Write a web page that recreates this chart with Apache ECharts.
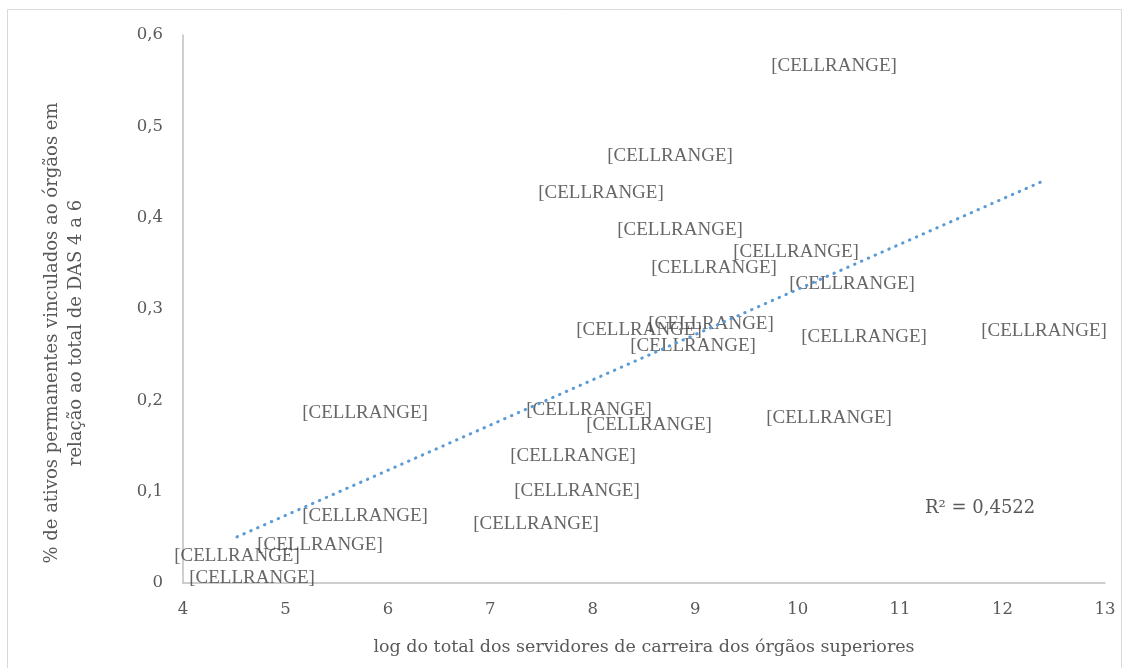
<!DOCTYPE html>
<html>
<head>
<meta charset="utf-8">
<script src="https://cdn.jsdelivr.net/npm/echarts@6/dist/echarts.min.js"></script>
<style>
  html, body { margin: 0; padding: 0; background: #fff; }
  #chart { width: 1131px; height: 668px; }
</style>
</head>
<body>
<div id="chart"></div>
<script>
// log of career staff (x) and share of permanent staff in DAS 4-6 posts (y)
const logServidores = [10.355, 8.754, 8.080, 8.852, 9.984, 9.184, 10.531, 9.154, 8.451, 10.648, 12.405, 8.979,
                       5.777, 7.963, 8.549, 10.306, 7.807, 7.846, 5.777, 7.446, 5.337, 4.527, 4.674];
const pctAtivos = [0.568, 0.470, 0.429, 0.389, 0.365, 0.347, 0.330, 0.286, 0.279, 0.272, 0.278, 0.262,
                   0.188, 0.192, 0.175, 0.183, 0.141, 0.103, 0.0756, 0.0668, 0.0438, 0.0318, 0.0077];
const pointLabel = '[CELLRANGE]';
const r2Text = 'R\u00B2 = 0,4522';
const xTitle = 'log do total dos servidores de carreira dos órgãos superiores';
const yTitle = '% de ativos permanentes vinculados ao órgãos em\nrelação ao total de DAS 4 a 6';

const points = logServidores.map((x, i) => [x, pctAtivos[i]]);

// least-squares linear trend over the data range
const n = points.length;
const mx = logServidores.reduce((a, b) => a + b, 0) / n;
const my = pctAtivos.reduce((a, b) => a + b, 0) / n;
let sxy = 0, sxx = 0;
points.forEach(([x, y]) => { sxy += (x - mx) * (y - my); sxx += (x - mx) * (x - mx); });
const slope = sxy / sxx;
const intercept = my - slope * mx;
const xMin = Math.min(...logServidores);
const xMax = Math.max(...logServidores);
const trend = [[xMin, intercept + slope * xMin], [xMax, intercept + slope * xMax]];

const serif = '"Liberation Serif", "DejaVu Serif", serif';
const wideSerif = '"DejaVu Serif", "Liberation Serif", serif';
const chart = echarts.init(document.getElementById('chart'));
chart.setOption({
  animation: false,
  backgroundColor: '#fff',
  grid: { left: 183, right: 26, top: 35, bottom: 85, containLabel: false },
  xAxis: {
    type: 'value', min: 4, max: 13, interval: 1,
    name: xTitle, nameLocation: 'middle', nameGap: 55,
    nameTextStyle: { fontFamily: wideSerif, fontSize: 17.5, color: '#595959' },
    axisLine: { show: true, lineStyle: { color: '#bfbfbf', width: 1.5 } },
    axisTick: { show: false },
    splitLine: { show: false },
    axisLabel: { fontFamily: wideSerif, fontSize: 16.5, color: '#595959', margin: 18 }
  },
  yAxis: {
    type: 'value', min: 0, max: 0.6, interval: 0.1,
    axisLine: { show: true, onZero: false, lineStyle: { color: '#bfbfbf', width: 1.5 } },
    axisTick: { show: false },
    splitLine: { show: false },
    axisLabel: {
      fontFamily: wideSerif, fontSize: 16.5, color: '#595959', margin: 20,
      formatter: v => String(Math.round(v * 10) / 10).replace('.', ',')
    }
  },
  series: [
    {
      type: 'scatter',
      data: points,
      symbolSize: 1,
      itemStyle: { color: 'rgba(0,0,0,0)' },
      z: 2,
      label: {
        show: true, position: 'inside', formatter: pointLabel, offset: [0, 2],
        fontFamily: serif, fontSize: 19, color: '#404040'
      }
    },
    {
      type: 'line',
      data: trend,
      symbol: 'none',
      z: 5,
      lineStyle: { color: '#5b9bd5', width: 3, type: [0.5, 7], cap: 'round' }
    }
  ],
  graphic: [
    {
      type: 'rect', z: -1,
      shape: { x: 7.5, y: 9.5, width: 1114, height: 670 },
      style: { fill: 'none', stroke: '#d9d9d9', lineWidth: 1 }
    },
    {
      type: 'text', x: 64, y: 333, rotation: Math.PI / 2,
      style: {
        text: yTitle, font: '18px ' + wideSerif, fill: '#595959',
        align: 'center', verticalAlign: 'middle', lineHeight: 24
      }
    },
    {
      type: 'text', x: 925, y: 508,
      style: { text: r2Text, font: '18px ' + wideSerif, fill: '#595959', verticalAlign: 'middle' }
    }
  ]
});
</script>
</body>
</html>
